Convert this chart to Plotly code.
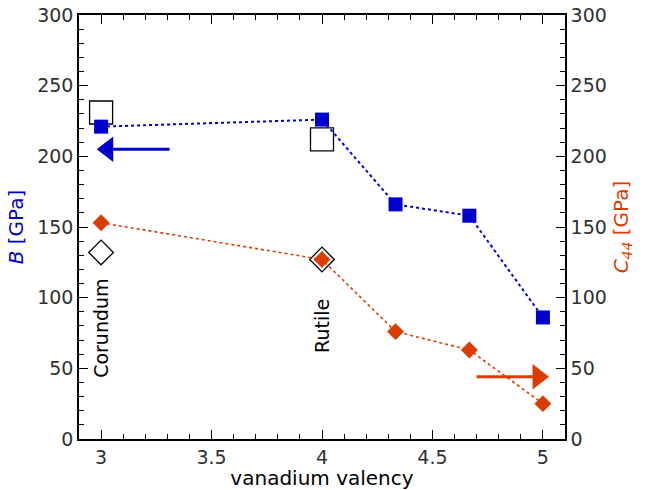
import plotly.graph_objects as go

valency = [3, 4, 4.333, 4.667, 5]
B_vals = [221, 226, 166, 158, 86]
C44_vals = [153, 127, 76, 63, 25]

exp_x = [3, 4]
B_exp = [231, 212]
C44_exp = [132, 127]

labels = ["Corundum", "Rutile"]
label_x = [3, 4]
label_y = [78, 80]

# arrows: shaft from tail to head base, triangle head centre
blue_arrow_shaft_x = [3.31, 3.05]
blue_arrow_y = 205
blue_arrow_head_x = 3.030
orange_arrow_shaft_x = [4.70, 4.96]
orange_arrow_y = 44
orange_arrow_head_x = 4.978

blue = "#0000CC"
orange = "#DD3C00"
tick_color = "#303030"
font_family = "DejaVu Sans"

fig = go.Figure()

fig.add_trace(go.Scatter(x=exp_x, y=B_exp, mode="markers",
                         marker=dict(symbol="square-open", size=23, color="black",
                                     line=dict(width=1.3, color="black")),
                         showlegend=False))
fig.add_trace(go.Scatter(x=exp_x, y=C44_exp, mode="markers",
                         marker=dict(symbol="diamond-open", size=19, color="black",
                                     line=dict(width=1.3, color="black")),
                         showlegend=False))

fig.add_trace(go.Scatter(x=valency, y=B_vals, mode="lines+markers",
                         line=dict(color=blue, width=2, dash="dot"),
                         marker=dict(symbol="square", size=14, color=blue),
                         showlegend=False))
fig.add_trace(go.Scatter(x=valency, y=C44_vals, mode="lines+markers",
                         line=dict(color=orange, width=1.6, dash="dot"),
                         marker=dict(symbol="diamond", size=13, color=orange),
                         showlegend=False))

# arrows
fig.add_trace(go.Scatter(x=blue_arrow_shaft_x, y=[blue_arrow_y] * 2, mode="lines",
                         line=dict(color=blue, width=3), showlegend=False, hoverinfo="skip"))
fig.add_trace(go.Scatter(x=[blue_arrow_head_x], y=[blue_arrow_y], mode="markers",
                         marker=dict(symbol="triangle-left", size=22, color=blue),
                         showlegend=False, hoverinfo="skip"))
fig.add_trace(go.Scatter(x=orange_arrow_shaft_x, y=[orange_arrow_y] * 2, mode="lines",
                         line=dict(color=orange, width=3), showlegend=False, hoverinfo="skip"))
fig.add_trace(go.Scatter(x=[orange_arrow_head_x], y=[orange_arrow_y], mode="markers",
                         marker=dict(symbol="triangle-right", size=22, color=orange),
                         showlegend=False, hoverinfo="skip"))

# invisible traces to activate mirror axes
fig.add_trace(go.Scatter(x=valency, y=C44_vals, yaxis="y2", mode="markers",
                         marker=dict(opacity=0), hoverinfo="skip", showlegend=False))
fig.add_trace(go.Scatter(x=valency, y=C44_vals, xaxis="x2", mode="markers",
                         marker=dict(opacity=0), hoverinfo="skip", showlegend=False))

for t, lx, ly in zip(labels, label_x, label_y):
    fig.add_annotation(x=lx, y=ly, xref="x", yref="y", text=t, showarrow=False,
                       textangle=-90, font=dict(size=19, color="black", family=font_family))

axis_common = dict(showline=True, linecolor="black", linewidth=1.5,
                   ticks="inside", ticklen=9, tickwidth=1.3, tickcolor="black",
                   showgrid=False, zeroline=False, automargin=False,
                   tickfont=dict(size=19, color=tick_color, family=font_family))
minor_x = dict(dtick=0.1, tick0=3, ticks="inside", ticklen=5, tickwidth=1.1, tickcolor="black")
minor_y = dict(dtick=10, ticks="inside", ticklen=5, tickwidth=1.1, tickcolor="black")

fig.update_layout(
    width=645, height=490,
    margin=dict(l=79, r=80, t=15, b=51),
    paper_bgcolor="white", plot_bgcolor="white",
    font=dict(family=font_family),
    xaxis=dict(range=[2.9, 5.1], tickvals=[3, 3.5, 4, 4.5, 5],
               ticktext=["3", "3.5", "4", "4.5", "5"],
               minor=minor_x,
               title=dict(text="vanadium valency", standoff=0,
                          font=dict(size=20, color="black", family=font_family)),
               **axis_common),
    xaxis2=dict(range=[2.9, 5.1], tickvals=[3, 3.5, 4, 4.5, 5], overlaying="x",
                side="top", showticklabels=False, minor=minor_x, **axis_common),
    yaxis=dict(range=[0, 300], dtick=50, minor=minor_y,
               title=dict(text="<i>B</i> [GPa]", standoff=8,
                          font=dict(size=20, color=blue, family=font_family)),
               **axis_common),
    yaxis2=dict(range=[0, 300], dtick=50, overlaying="y", side="right", minor=minor_y,
                title=dict(text="<i>C</i><sub><i>44</i></sub> [GPa]", standoff=8,
                           font=dict(size=20, color=orange, family=font_family)),
                **axis_common),
)

fig.write_html("out.html")
